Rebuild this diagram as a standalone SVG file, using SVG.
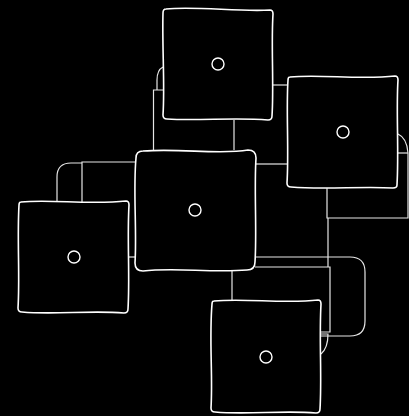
<svg xmlns="http://www.w3.org/2000/svg" width="409" height="416" viewBox="0 0 409 416">
<style>
.bg{fill:#000}
.edge{fill:none;stroke:#e6e6e6;stroke-width:1.2;stroke-linejoin:miter}
.box{fill:#000;stroke:#fff;stroke-width:1.6;stroke-linejoin:round}
.dot{fill:none;stroke:#fff;stroke-width:1.4}
</style>
<rect class="bg" x="0" y="0" width="409" height="416"/>
<g id="connectors">
<path class="edge" d="M163,67 Q157,70 157,80 L157,90"/>
<path class="edge" d="M163,90 L153.5,90 L153.5,150"/>
<path class="edge" d="M234,120 L234,150"/>
<path class="edge" d="M273,85 L287,85"/>
<path class="edge" d="M255,164 L287,164"/>
<path class="edge" d="M398,134 Q407,138 408,153 L408,218 L327,218 L327,188"/>
<path class="edge" d="M398,153 L408,153"/>
<path class="edge" d="M328,218 L328,267"/>
<path class="edge" d="M255,257 L350,257 Q365,257 365,272 L365,321 Q365,336 350,336 L321,336"/>
<path class="edge" d="M255,267 L330,267 L330,332 L321,332"/>
<path class="edge" d="M321,334 L328,334 Q328,348 321,354"/>
<path class="edge" d="M232,270 L232,301"/>
<path class="edge" d="M57,201 L57,177 Q57,163 71,163 L82,163"/>
<path class="edge" d="M82,203 L82,162 L135,162"/>
<path class="edge" d="M129,257 L135,257"/>
</g>
<g id="node-top">
<path class="box" d="M166,9 C195,6 240,12 270,10 Q273,10 273,14 C271,45 274,85 272,116 Q272,120 268,120 C235,117 200,121 167,119 Q163,119 163,115 C165,85 162,45 163,13 Q163,9 166,9 Z"/>
<circle class="dot" cx="218" cy="64" r="6"/>
</g>
<g id="node-right">
<path class="box" d="M290,77 C320,74 360,80 395,76 Q398,76 398,80 C396,110 399,150 397,185 Q397,188 393,188 C360,186 325,190 291,187 Q287,187 287,183 C289,150 286,110 288,80 Q288,77 290,77 Z"/>
<circle class="dot" cx="343" cy="132" r="6"/>
</g>
<g id="node-center">
<path class="box" d="M143,151 C180,148 220,155 248,150 Q256,150 256,158 C254,190 257,230 255,262 Q255,270 247,270 C210,273 175,267 143,271 Q135,271 135,263 C137,230 133,190 136,158 Q136,151 143,151 Z"/>
<circle class="dot" cx="195" cy="210" r="6"/>
</g>
<g id="node-left">
<path class="box" d="M21,202 C50,199 90,205 126,201 Q129,201 129,205 C127,240 130,275 128,309 Q128,313 124,313 C90,310 55,315 22,312 Q18,312 18,308 C20,275 17,240 19,205 Q19,202 21,202 Z"/>
<circle class="dot" cx="74" cy="257" r="6"/>
</g>
<g id="node-bottom">
<path class="box" d="M214,301 C245,298 285,304 318,300 Q321,300 321,304 C319,340 322,375 320,409 Q320,413 316,413 C283,410 248,415 215,412 Q211,412 211,408 C213,375 209,340 212,304 Q212,301 214,301 Z"/>
<circle class="dot" cx="266" cy="357" r="6"/>
</g>
</svg>
